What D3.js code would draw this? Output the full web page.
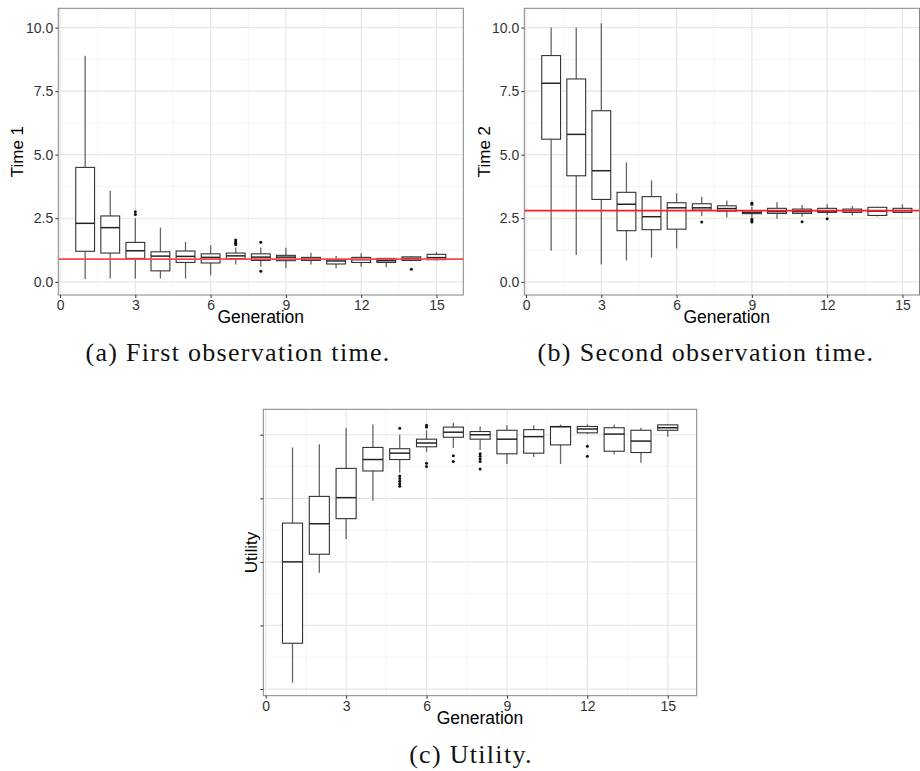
<!DOCTYPE html>
<html>
<head>
<meta charset="utf-8">
<script src="https://cdn.jsdelivr.net/npm/d3@7"></script>
<style>
  body { margin: 0; background: #fff; }
  text { font-family: "Liberation Sans", Arial, sans-serif; }
</style>
</head>
<body>
<svg id="fig" width="920" height="771"></svg>
<script>
// data
const generations = d3.range(1, 16)
const xTicks = [0, 3, 6, 9, 12, 15]
const timeTicks = [0, 2.5, 5, 7.5, 10]
const utilTicks = [0, 1, 2, 3, 4]

// (a) first observation time
const t1Low = [0.11, 0.13, 0.13, 0.13, 0.13, 0.26, 0.68, 0.59, 0.53, 0.68, 0.53, 0.59, 0.57, 0.81, 0.84]
const t1Q1 = [1.20, 1.13, 0.92, 0.43, 0.76, 0.74, 0.91, 0.84, 0.83, 0.84, 0.70, 0.76, 0.76, 0.84, 0.87]
const t1Med = [2.30, 2.13, 1.22, 1.01, 1.00, 0.96, 1.02, 0.97, 0.97, 0.89, 0.82, 0.87, 0.83, 0.92, 0.95]
const t1Q3 = [4.50, 2.59, 1.55, 1.18, 1.21, 1.10, 1.13, 1.10, 1.04, 0.96, 0.88, 0.96, 0.92, 0.98, 1.08]
const t1High = [8.89, 3.58, 2.50, 2.13, 1.57, 1.44, 1.35, 1.35, 1.34, 1.14, 1.01, 1.12, 0.93, 1.01, 1.17]
const t1Out = [[], [], [2.76, 2.65], [], [], [], [1.64, 1.58, 1.52, 1.47], [1.56, 0.41], [], [], [], [], [], [0.49], []]
const t1Ref = 0.89

// (b) second observation time
const t2Low = [1.22, 1.05, 0.68, 0.84, 0.95, 1.31, 2.59, 2.54, 2.52, 2.48, 2.56, 2.63, 2.61, 2.57, 2.70]
const t2Q1 = [5.61, 4.17, 3.24, 2.01, 2.05, 2.07, 2.82, 2.78, 2.68, 2.69, 2.69, 2.73, 2.73, 2.61, 2.73]
const t2Med = [7.81, 5.80, 4.37, 3.05, 2.56, 2.91, 2.91, 2.88, 2.73, 2.76, 2.76, 2.78, 2.80, 2.78, 2.80]
const t2Q3 = [8.90, 7.98, 6.73, 3.52, 3.35, 3.11, 3.07, 2.99, 2.80, 2.89, 2.86, 2.89, 2.86, 2.93, 2.89]
const t2High = [10.0, 10.0, 10.17, 4.70, 3.99, 3.48, 3.35, 3.20, 2.95, 3.13, 3.02, 3.05, 2.98, 2.95, 3.05]
const t2Out = [[], [], [], [], [], [], [2.35], [], [3.10, 3.05, 2.46, 2.40, 2.35], [], [2.36], [2.48], [], [], []]
const t2Ref = 2.80

// (c) utility (axis values unlabeled in the original)
const uLow = [0.10, 1.83, 2.36, 2.96, 3.40, 3.73, 3.79, 3.76, 3.54, 3.65, 3.54, 4.01, 3.69, 3.56, 3.97]
const uQ1 = [0.72, 2.12, 2.68, 3.43, 3.61, 3.81, 3.96, 3.93, 3.70, 3.71, 3.84, 4.03, 3.74, 3.72, 4.07]
const uMed = [2.00, 2.60, 3.01, 3.61, 3.71, 3.87, 4.04, 4.00, 3.93, 3.97, 4.125, 4.09, 4.01, 3.90, 4.11]
const uQ3 = [2.61, 3.03, 3.47, 3.80, 3.78, 3.93, 4.12, 4.05, 4.07, 4.08, 4.13, 4.13, 4.11, 4.07, 4.155]
const uHigh = [3.80, 3.85, 4.10, 4.16, 4.00, 4.07, 4.19, 4.13, 4.15, 4.15, 4.16, 4.16, 4.16, 4.11, 4.16]
const uOut = [[], [], [], [], [4.10, 3.35, 3.31, 3.27, 3.23, 3.19], [4.15, 4.12, 3.55, 3.50], [3.67, 3.58], [3.70, 3.66, 3.62, 3.58, 3.46], [], [], [], [3.82, 3.66], [], [], []]

const svg = d3.select('#fig')

function drawPanel (cfg) {
  const g = svg.append('g')
  const x = d3.scaleLinear().domain(cfg.xDomain).range([cfg.left, cfg.left + cfg.width])
  const y = d3.scaleLinear().domain(cfg.yDomain).range([cfg.top + cfg.height, cfg.top])
  const bottom = cfg.top + cfg.height

  // minor grid
  const xMinor = xTicks.slice(0, -1).map(d => d + 1.5)
  const yStep = cfg.yTicks[1] - cfg.yTicks[0]
  const yMinor = cfg.yTicks.map(d => d + yStep / 2).filter(d => d < cfg.yDomain[1])
  g.selectAll('.vminor').data(xMinor).join('line')
    .attr('x1', d => x(d)).attr('x2', d => x(d))
    .attr('y1', cfg.top).attr('y2', bottom)
    .attr('stroke', '#f4f4f4').attr('stroke-width', 1)
  g.selectAll('.hminor').data(yMinor).join('line')
    .attr('x1', cfg.left).attr('x2', cfg.left + cfg.width)
    .attr('y1', d => y(d)).attr('y2', d => y(d))
    .attr('stroke', '#f4f4f4').attr('stroke-width', 1)
  // major grid
  g.selectAll('.vmajor').data(xTicks).join('line')
    .attr('x1', d => x(d)).attr('x2', d => x(d))
    .attr('y1', cfg.top).attr('y2', bottom)
    .attr('stroke', '#e6e6e6').attr('stroke-width', 1.2)
  g.selectAll('.hmajor').data(cfg.yTicks).join('line')
    .attr('x1', cfg.left).attr('x2', cfg.left + cfg.width)
    .attr('y1', d => y(d)).attr('y2', d => y(d))
    .attr('stroke', '#e6e6e6').attr('stroke-width', 1.2)

  // boxes
  const hw = 0.375
  generations.forEach((gen, i) => {
    const cx = x(gen)
    g.append('line').attr('x1', cx).attr('x2', cx)
      .attr('y1', y(cfg.high[i])).attr('y2', y(cfg.q3[i]))
      .attr('stroke', '#666').attr('stroke-width', 1.3)
    g.append('line').attr('x1', cx).attr('x2', cx)
      .attr('y1', y(cfg.q1[i])).attr('y2', y(cfg.low[i]))
      .attr('stroke', '#666').attr('stroke-width', 1.3)
    g.append('rect')
      .attr('x', x(gen - hw)).attr('width', x(gen + hw) - x(gen - hw))
      .attr('y', y(cfg.q3[i])).attr('height', y(cfg.q1[i]) - y(cfg.q3[i]))
      .attr('fill', '#fff').attr('stroke', '#333').attr('stroke-width', 1.1)
    g.append('line').attr('x1', x(gen - hw)).attr('x2', x(gen + hw))
      .attr('y1', y(cfg.med[i])).attr('y2', y(cfg.med[i]))
      .attr('stroke', '#222').attr('stroke-width', 1.5)
    g.selectAll(null).data(cfg.out[i]).join('circle')
      .attr('cx', cx).attr('cy', d => y(d)).attr('r', 1.5).attr('fill', '#111')
  })

  // reference line
  if (cfg.ref !== undefined) {
    g.append('line')
      .attr('x1', cfg.left).attr('x2', cfg.left + cfg.width)
      .attr('y1', y(cfg.ref)).attr('y2', y(cfg.ref))
      .attr('stroke', cfg.refColor).attr('stroke-width', 1.6)
  }

  // border
  g.append('rect')
    .attr('x', cfg.left).attr('y', cfg.top)
    .attr('width', cfg.width).attr('height', cfg.height)
    .attr('fill', 'none').attr('stroke', '#858585').attr('stroke-width', 1)

  // axes
  const xAxis = g.append('g').attr('transform', `translate(0,${bottom})`)
    .call(d3.axisBottom(x).tickValues(xTicks).tickSize(3).tickPadding(2).tickFormat(d3.format('d')))
  const yAxis = g.append('g').attr('transform', `translate(${cfg.left},0)`)
    .call(d3.axisLeft(y).tickValues(cfg.yTicks).tickSize(3).tickPadding(2).tickFormat(cfg.yFormat))
  ;[xAxis, yAxis].forEach(a => {
    a.select('.domain').remove()
    a.selectAll('.tick line').attr('stroke', '#333')
    a.selectAll('.tick text').attr('fill', '#333')
      .style('font-family', '"Liberation Sans", Arial, sans-serif').style('font-size', '14px')
  })

  // titles
  g.append('text')
    .attr('x', cfg.titleCenter || cfg.left + cfg.width / 2).attr('y', bottom + 28)
    .attr('text-anchor', 'middle').style('font-size', '17.5px').attr('fill', '#000')
    .text('Generation')
  g.append('text')
    .attr('transform', `translate(${cfg.left - cfg.yTitleOffset},${cfg.top + cfg.height / 2})rotate(-90)`)
    .attr('text-anchor', 'middle').attr('dominant-baseline', 'central')
    .style('font-size', '17px').attr('fill', '#000')
    .text(cfg.yTitle)
}

const pxPerGen = 405 / 16.14

drawPanel({
  left: 58.3, top: 8.3, width: 405, height: 286.7,
  xDomain: [-0.07, 16.07], yDomain: [-0.52, 10.76],
  yTicks: timeTicks, yFormat: d3.format('.1f'),
  low: t1Low, q1: t1Q1, med: t1Med, q3: t1Q3, high: t1High, out: t1Out,
  ref: t1Ref, refColor: '#f24a4a',
  yTitle: 'Time 1', yTitleOffset: 40.5
})

drawPanel({
  left: 524.3, top: 8.3, width: 395.2, height: 286.7,
  xDomain: [-0.07, -0.07 + 395.2 / pxPerGen], yDomain: [-0.52, 10.76],
  yTicks: timeTicks, yFormat: d3.format('.1f'),
  low: t2Low, q1: t2Q1, med: t2Med, q3: t2Q3, high: t2High, out: t2Out,
  ref: t2Ref, refColor: '#ff1f1f',
  yTitle: 'Time 2', yTitleOffset: 39.5,
  titleCenter: 524.3 + 405 / 2
})

drawPanel({
  left: 263.3, top: 409.3, width: 433.4, height: 286.4,
  xDomain: [-0.09, 16.08], yDomain: [-0.105, 4.40],
  yTicks: utilTicks, yFormat: () => '',
  low: uLow, q1: uQ1, med: uMed, q3: uQ3, high: uHigh, out: uOut,
  yTitle: 'Utility', yTitleOffset: 12
})

// sub-captions
const captions = [
  { text: '(a) First observation time.', x: 238, y: 361 },
  { text: '(b) Second observation time.', x: 706, y: 361 },
  { text: '(c) Utility.', x: 471, y: 763 }
]
svg.selectAll('.cap').data(captions).join('text')
  .attr('x', d => d.x).attr('y', d => d.y)
  .attr('text-anchor', 'middle')
  .style('font-family', '"Liberation Serif", "Times New Roman", serif')
  .style('font-size', '26px').style('letter-spacing', '1.3px').attr('fill', '#111')
  .text(d => d.text)
</script>
</body>
</html>
